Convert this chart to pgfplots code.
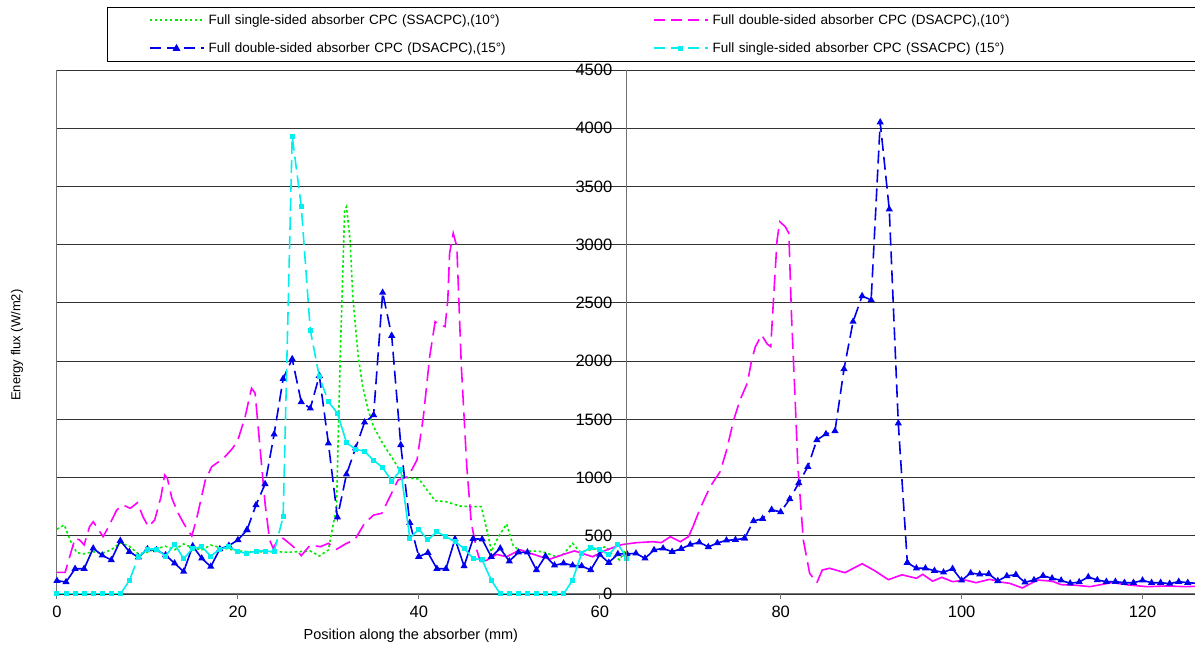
\documentclass[border=0pt]{standalone}
\usepackage{pgfplots}
\usepackage{pgfplotstable}
\pgfplotsset{compat=1.18}
\usepackage{fontspec}
\setmainfont{Liberation Sans}

\definecolor{cgreen}{RGB}{0,235,0}
\definecolor{cmag}{RGB}{255,0,255}
\definecolor{cblue}{RGB}{0,0,235}
\definecolor{ccyan}{RGB}{0,240,240}

% SSACPC 10 deg
\pgfplotstableread{
x y
0 556
0.8 593
1.6 435
2.2 355
3 345
4 363
5 350
6 380
7 440
8 410
9 345
10 360
11 390
12 410
13 380
14 430
15 395
16 380
17 420
18 400
19 385
20 370
21 365
22 360
23 363
24 365
25 360
26 360
27 365
28 370
29 326
30 378
30.9 750
31.3 2010
31.8 3298
32 3326
32.4 3040
32.7 2553
33.3 2038
33.8 1780
34.4 1580
35 1437
36 1294
37.2 1151
38.3 1007
39 994
40 988
41.8 801
43 793
44.5 756
45.8 750
46.9 750
47.7 492
48 363
48.8 492
49.7 601
50.4 421
51.2 363
52.5 370
53.7 363
55.2 320
56 344
57 435
57.8 363
59 380
60.7 406
61.4 335
62.2 292
62.8 370
}\greenA

% DSACPC 10 deg
\pgfplotstableread{
x y
0 186
0.9 186
1.4 320
2 478
2.5 464
3 421
3.6 578
4 621
4.6 550
5.1 492
5.7 578
6.6 721
7.3 764
8.1 736
8.9 784
9.5 664
10.1 578
10.8 635
11.5 836
11.9 1022
12.2 994
12.7 822
13.4 693
14.1 593
14.9 498
15.4 635
16.4 979
17.1 1093
18.4 1165
19.4 1250
20 1323
20.8 1523
21.5 1767
21.9 1724
22.4 1294
23 779
23.5 464
23.9 392
24.5 478
25 478
25.9 421
26.5 378
27 329
28 421
29.1 406
30 435
30.9 384
32 435
32.9 464
34 607
35 678
35.9 693
36.8 836
37.7 979
38.8 1007
39.8 1151
40.5 1523
41.2 2040
41.8 2339
42.3 2310
42.9 2296
43.2 2525
43.4 2926
43.8 3098
44.2 2983
44.7 1952
45.3 1093
45.8 607
46.4 378
46.8 277
47.5 290
48.6 340
49.7 320
51.2 380
52.3 350
53.5 320
54.5 300
56 340
57.2 370
58 350
59.2 320
60.5 370
61.5 400
62.5 425
64.1 441
65.9 449
66.8 441
67.8 492
68.9 449
69.8 492
70.3 578
71.1 736
72.2 921
73.3 1050
74 1230
74.8 1494
75.5 1666
76.3 1809
76.8 2010
77.2 2124
77.9 2224
78.5 2147
78.9 2124
79.2 2525
79.6 3040
79.9 3197
80.5 3155
80.9 3098
81.2 2381
81.6 1666
81.9 1093
82.5 464
83.2 178
84 97
84.6 206
85.4 221
87.1 183
89 260
90.4 200
91.9 123
93.4 165
95 135
95.7 169
96.8 110
97.8 143
99 106
100.4 120
101.6 97
103.1 126
104.5 100
105.3 92
106.7 52
108.4 120
110 110
111 80
112.3 77
114.2 63
116.6 98
118.5 77
120.5 63
122.7 69
124.7 63
125.9 66
}\magA

% DSACPC 15 deg
\pgfplotstableread{
x y
0 114
1 103
2 217
3 217
4 392
5 332
6 292
7 458
8 363
9 315
10 386
11 378
12 335
13 264
14 192
15 412
16 306
17 235
18 386
19 415
20 464
21 550
22 764
23 945
24 1371
25 1849
26 2018
27 1649
28 1594
29 1875
30 1294
31 659
32 1028
33 1251
34 1474
35 1537
36 2588
37 2218
38 1280
39 612
40 320
41 355
42 217
43 217
44 472
45 240
46 475
47 470
48 320
49 392
50 281
51 358
52 358
53 206
54 326
55 246
56 264
57 246
58 240
59 206
60 338
61 269
62 344
63 344
64 349
65 306
66 378
67 392
68 363
69 389
70 424
71 444
72 404
73 438
74 461
75 466
76 478
77 627
78 647
79 724
80 704
81 816
82 953
83 1093
84 1323
85 1374
86 1400
87 1932
88 2339
89 2559
90 2525
91 4051
92 3304
93 1466
94 269
95 221
96 221
97 200
98 186
99 217
100 117
101 180
102 169
103 172
104 112
105 155
106 166
107 100
108 120
109 157
110 135
111 117
112 92
113 103
114 146
115 120
116 106
117 106
118 97
119 97
120 117
121 97
122 97
123 89
124 106
125 97
126 92
}\blueA

% SSACPC 15 deg
\pgfplotstableread{
x y
0 0
1 0
2 0
3 0
4 0
5 0
6 0
7 0
8 114
9 320
10 386
11 386
12 326
13 429
14 303
15 392
16 406
17 326
18 384
19 406
20 363
21 349
22 369
23 369
24 363
25 664
26 3930
27 3332
28 2265
29 1866
30 1652
31 1552
32 1300
33 1243
34 1225
35 1148
36 1085
37 970
38 1065
39 480
40 556
41 464
42 535
43 492
44 449
45 392
46 306
47 292
48 120
49 0
50 0
51 0
52 0
53 0
54 0
55 0
56 0
57 120
58 352
59 400
60 384
61 335
62 429
63 306
}\cyanA

\tikzset{
  gline/.style={cgreen, line width=1.6pt, dash pattern=on 2.5pt off 2.5pt},
  mline/.style={cmag, line width=1.6pt},
  mdash/.style={dash pattern=on 16pt off 7pt},
  bline/.style={cblue, line width=1.6pt, mark=triangle*, mark size=2.6pt, mark options={solid}},
  bdash/.style={dash pattern=on 13pt off 6pt},
  cline/.style={ccyan, line width=1.6pt, mark=square*, mark size=1.7pt, mark options={solid}},
  cdash/.style={dash pattern=on 13pt off 6pt},
}

\begin{document}
\begin{tikzpicture}
\begin{axis}[
    scale only axis, width=1138pt, height=524pt,
    xmin=0, xmax=125.8, ymin=0, ymax=4500,
    clip mode=individual,
    axis x line*=bottom, axis y line*=left,
    axis line style={black!55, line width=1pt},
    xtick={0,20,...,120}, tick align=outside, major tick length=5pt,
    xtick style={black!55, line width=1pt},
    ytick={0,500,...,4500}, yticklabels={}, ytick style={draw=none},
    ymajorgrids, grid style={black!80, line width=0.9pt},
    tick label style={font=\fontsize{16.5}{18}\selectfont},
    xticklabel style={yshift=-3pt},
    /pgf/number format/assume math mode=true,
    xlabel={Position along the absorber (mm)},
    xlabel style={font=\fontsize{14.5}{16}\selectfont, at={(axis description cs:0.311,-0.0802)}, anchor=center},
    ylabel={Energy flux (W/m2)},
    ylabel style={font=\fontsize{13}{15}\selectfont, at={(axis description cs:-0.0351,0.475)}, anchor=center},
    legend columns=2,
    legend cell align=left,
    legend image code/.code={\draw[mark repeat=2,mark phase=2,#1,line width=2pt] plot coordinates {(0pt,0pt) (27pt,0pt) (54pt,0pt)};},
    legend style={at={(axis description cs:0.04394,1)}, anchor=south west, yshift=8pt,
        draw=black, line width=1pt, inner xsep=41pt, inner ysep=1.5pt, row sep=5pt,
        font=\fontsize{13.5}{16}\selectfont,
        nodes={text width=440pt, align=left, text height=16pt, text depth=7pt, inner xsep=4pt, inner ysep=0pt}},
]
\coordinate (axisbl) at (rel axis cs:0,0);

\addlegendimage{gline}
\addlegendentry{Full single-sided absorber CPC (SSACPC),(10°)}
\addlegendimage{mline, dash pattern=on 11pt off 6pt}
\addlegendentry{Full double-sided absorber CPC (DSACPC),(10°)}
\addlegendimage{bline, dash pattern=on 11pt off 6pt}
\addlegendentry{Full double-sided absorber CPC (DSACPC),(15°)}
\addlegendimage{cline, dash pattern=on 11pt off 6pt}
\addlegendentry{Full single-sided absorber CPC (SSACPC) (15°)}

\addplot[forget plot, gline] table {\greenA};

\addplot[forget plot, mline, mdash, restrict x to domain=0:46.8] table {\magA};
\addplot[forget plot, mline, restrict x to domain=46.8:70.3] table {\magA};
\addplot[forget plot, mline, mdash, restrict x to domain=70.3:84] table {\magA};
\addplot[forget plot, mline, restrict x to domain=84:127] table {\magA};

\addplot[forget plot, bline, restrict x to domain=0:21] table {\blueA};
\addplot[forget plot, bline, bdash, restrict x to domain=21:40] table {\blueA};
\addplot[forget plot, bline, restrict x to domain=40:76] table {\blueA};
\addplot[forget plot, bline, bdash, restrict x to domain=76:94] table {\blueA};
\addplot[forget plot, bline, restrict x to domain=94:127] table {\blueA};

\addplot[forget plot, cline, restrict x to domain=0:7] table {\cyanA};
\addplot[forget plot, cline, cdash, restrict x to domain=7:9] table {\cyanA};
\addplot[forget plot, cline, restrict x to domain=9:24] table {\cyanA};
\addplot[forget plot, cline, cdash, restrict x to domain=24:31] table {\cyanA};
\addplot[forget plot, cline, restrict x to domain=31:63] table {\cyanA};

% vertical axis crossing near x = 63, labels set left of it
\draw[black!55, line width=1pt] (axis cs:62.9,0) -- (axis cs:62.9,4500);
\pgfplotsinvokeforeach{0,500,...,4500}{
  \node[anchor=east, inner sep=0pt, font=\fontsize{16.5}{18}\selectfont] at (axis cs:61.4,#1) {#1};
}
\end{axis}
\pgfresetboundingbox
\path (axisbl) ++(-57pt,-56pt) rectangle ++(1195pt,650pt);
\end{tikzpicture}
\end{document}
